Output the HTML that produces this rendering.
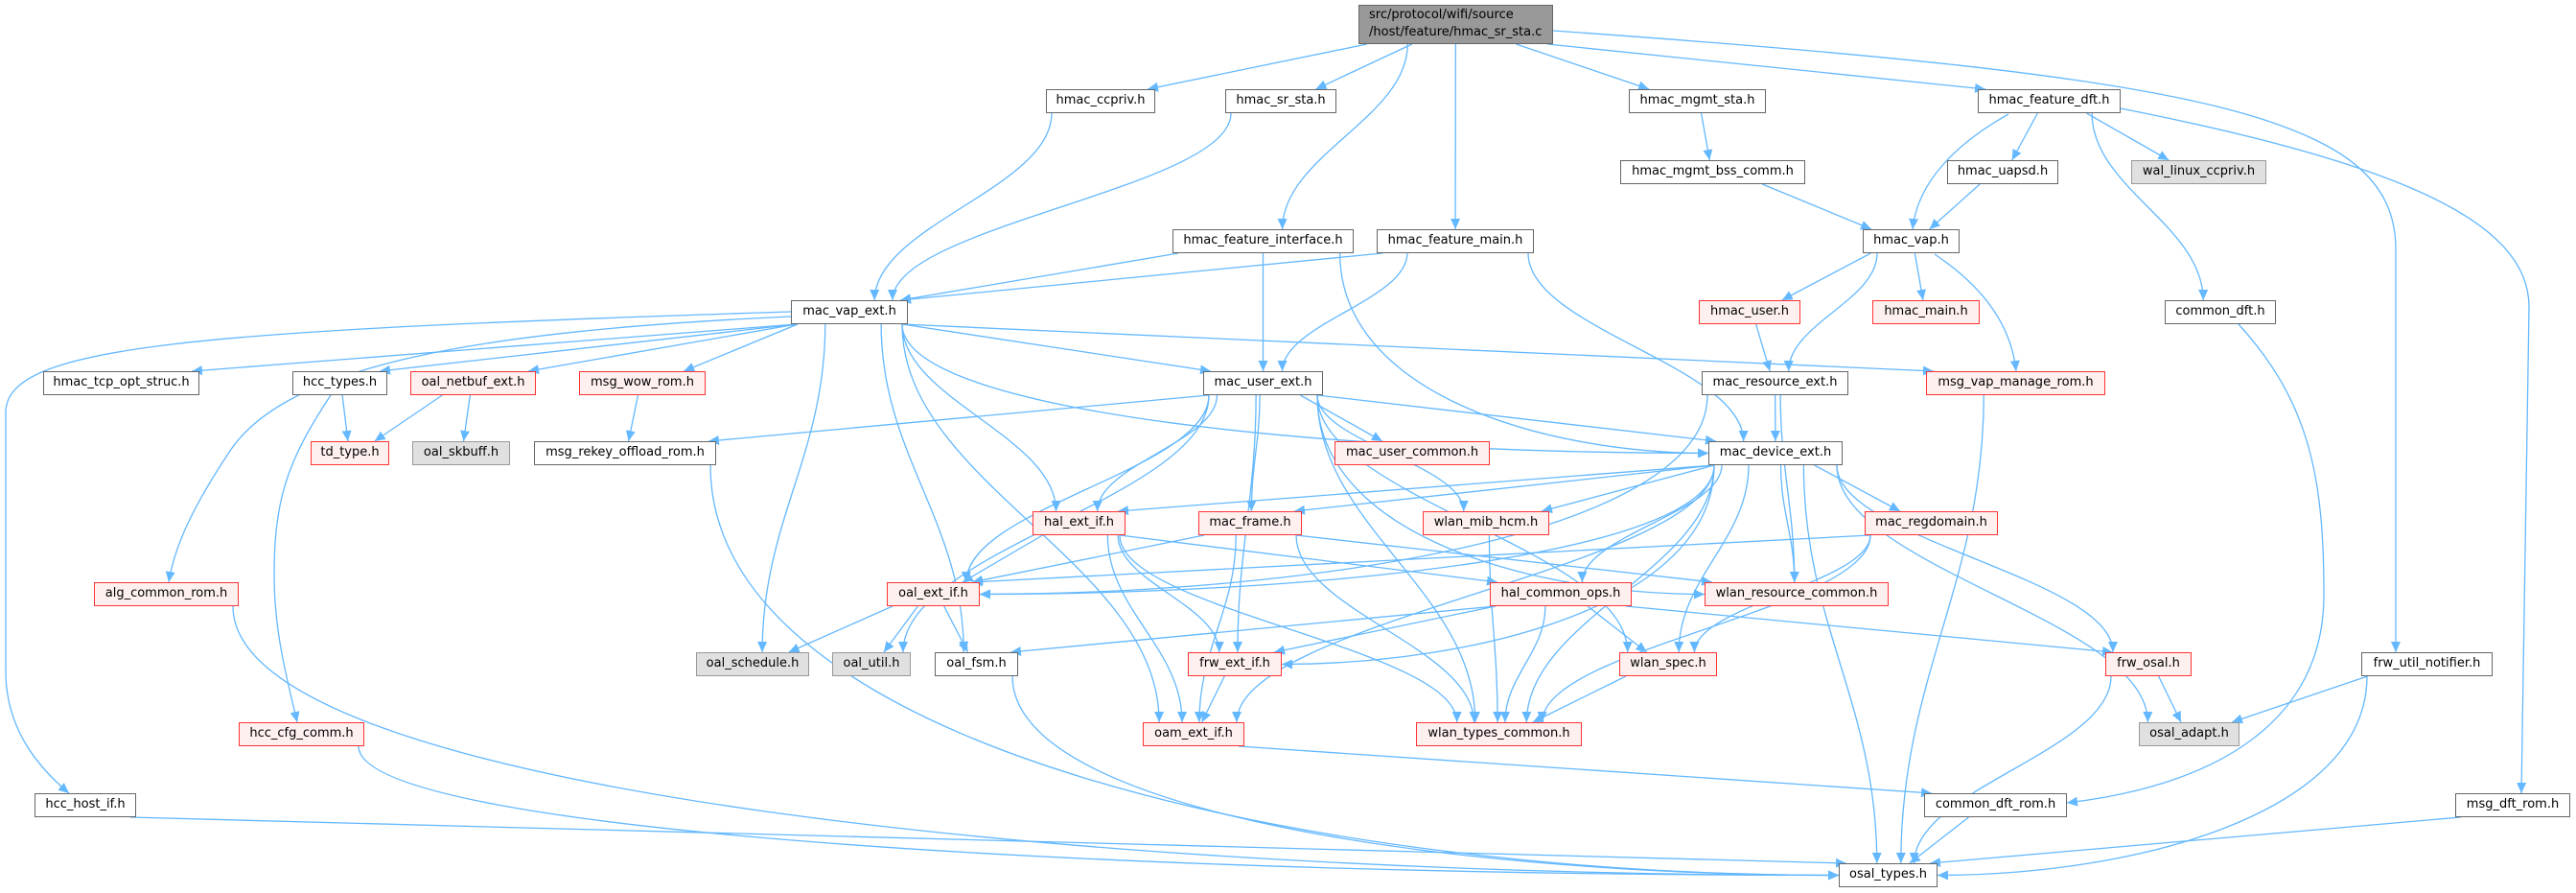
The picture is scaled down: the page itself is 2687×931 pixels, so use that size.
<!DOCTYPE html>
<html><head><meta charset="utf-8">
<style>
html,body{margin:0;padding:0;background:#fff;}
#wrap{position:relative;width:2687px;height:931px;overflow:hidden;background:#fff;}
svg{position:absolute;left:0;top:0;}
.n{position:absolute;box-sizing:border-box;height:25px;border:1.5px solid #666;background:#fff;font-family:"DejaVu Sans","Liberation Sans",sans-serif;font-size:13px;line-height:22px;text-align:center;color:#000;white-space:nowrap;}
.r{border-color:#ff3333;background:#fff0f0;}
.g{border-color:#999;background:#e0e0e0;}
.t{background:#999;border-color:#666;height:41px;line-height:18px;text-align:left;padding:1px 0 0 10px;}
</style></head><body>
<div id="wrap">
<svg id="sv" width="2687" height="931" xmlns="http://www.w3.org/2000/svg">
<defs><marker id="a" markerUnits="userSpaceOnUse" markerWidth="12" markerHeight="10" refX="11" refY="5" orient="auto"><path d="M0,0 L11,5 L0,10 z" fill="#63b8ff"/></marker></defs>
<g id="eg" fill="none" stroke="#63b8ff" stroke-width="1.3"></g>
</svg>
<div class="n t" style="left:1417px;top:5px;width:203px">src/protocol/wifi/source<br>/host/feature/hmac_sr_sta.c</div>
<div class="n" style="left:1091px;top:93px;width:114px">hmac_ccpriv.h</div>
<div class="n" style="left:1278px;top:93px;width:116px">hmac_sr_sta.h</div>
<div class="n" style="left:1699px;top:93px;width:143px">hmac_mgmt_sta.h</div>
<div class="n" style="left:2063px;top:93px;width:149px">hmac_feature_dft.h</div>
<div class="n" style="left:1690px;top:167px;width:193px">hmac_mgmt_bss_comm.h</div>
<div class="n" style="left:2031px;top:167px;width:116px">hmac_uapsd.h</div>
<div class="n g" style="left:2223px;top:167px;width:141px">wal_linux_ccpriv.h</div>
<div class="n" style="left:1223px;top:239px;width:189px">hmac_feature_interface.h</div>
<div class="n" style="left:1436px;top:239px;width:164px">hmac_feature_main.h</div>
<div class="n" style="left:1943px;top:239px;width:101px">hmac_vap.h</div>
<div class="n" style="left:825px;top:313px;width:122px">mac_vap_ext.h</div>
<div class="n r" style="left:1772px;top:313px;width:106px">hmac_user.h</div>
<div class="n r" style="left:1953px;top:313px;width:112px">hmac_main.h</div>
<div class="n" style="left:2258px;top:313px;width:116px">common_dft.h</div>
<div class="n" style="left:45px;top:387px;width:163px">hmac_tcp_opt_struc.h</div>
<div class="n" style="left:305px;top:387px;width:99px">hcc_types.h</div>
<div class="n r" style="left:428px;top:387px;width:131px">oal_netbuf_ext.h</div>
<div class="n r" style="left:604px;top:387px;width:132px">msg_wow_rom.h</div>
<div class="n" style="left:1255px;top:387px;width:125px">mac_user_ext.h</div>
<div class="n" style="left:1775px;top:387px;width:153px">mac_resource_ext.h</div>
<div class="n r" style="left:2009px;top:387px;width:187px">msg_vap_manage_rom.h</div>
<div class="n r" style="left:324px;top:460px;width:82px">td_type.h</div>
<div class="n g" style="left:430px;top:460px;width:102px">oal_skbuff.h</div>
<div class="n" style="left:557px;top:460px;width:190px">msg_rekey_offload_rom.h</div>
<div class="n r" style="left:1392px;top:460px;width:162px">mac_user_common.h</div>
<div class="n" style="left:1782px;top:460px;width:140px">mac_device_ext.h</div>
<div class="n r" style="left:1077px;top:533px;width:97px">hal_ext_if.h</div>
<div class="n r" style="left:1250px;top:533px;width:108px">mac_frame.h</div>
<div class="n r" style="left:1484px;top:533px;width:132px">wlan_mib_hcm.h</div>
<div class="n r" style="left:1945px;top:533px;width:139px">mac_regdomain.h</div>
<div class="n r" style="left:98px;top:607px;width:151px">alg_common_rom.h</div>
<div class="n r" style="left:925px;top:607px;width:97px">oal_ext_if.h</div>
<div class="n r" style="left:1554px;top:607px;width:148px">hal_common_ops.h</div>
<div class="n r" style="left:1778px;top:607px;width:192px">wlan_resource_common.h</div>
<div class="n g" style="left:726px;top:680px;width:118px">oal_schedule.h</div>
<div class="n g" style="left:868px;top:680px;width:82px">oal_util.h</div>
<div class="n" style="left:975px;top:680px;width:87px">oal_fsm.h</div>
<div class="n r" style="left:1239px;top:680px;width:98px">frw_ext_if.h</div>
<div class="n r" style="left:1689px;top:680px;width:102px">wlan_spec.h</div>
<div class="n r" style="left:2196px;top:680px;width:90px">frw_osal.h</div>
<div class="n" style="left:2463px;top:680px;width:137px">frw_util_notifier.h</div>
<div class="n r" style="left:249px;top:753px;width:131px">hcc_cfg_comm.h</div>
<div class="n r" style="left:1192px;top:753px;width:106px">oam_ext_if.h</div>
<div class="n r" style="left:1477px;top:753px;width:173px">wlan_types_common.h</div>
<div class="n g" style="left:2231px;top:753px;width:105px">osal_adapt.h</div>
<div class="n" style="left:36px;top:827px;width:106px">hcc_host_if.h</div>
<div class="n" style="left:2007px;top:827px;width:149px">common_dft_rom.h</div>
<div class="n" style="left:2561px;top:827px;width:120px">msg_dft_rom.h</div>
<div class="n" style="left:1918px;top:900px;width:103px">osal_types.h</div>
</div>
<script>
var N={
top:[1417,1620,5,46],ccpriv:[1091,1205,93],srsta:[1278,1394,93],mgmtsta:[1699,1842,93],fdft:[2063,2212,93],
bss:[1690,1883,167],uapsd:[2031,2147,167],wal:[2223,2364,167],fint:[1223,1412,239],fmain:[1436,1600,239],hvap:[1943,2044,239],
vap:[825,947,313],huser:[1772,1878,313],hmain:[1953,2065,313],cdft:[2258,2374,313],
tcp:[45,208,387],hcct:[305,404,387],netbuf:[428,559,387],wow:[604,736,387],user:[1255,1380,387],res:[1775,1928,387],vmr:[2009,2196,387],
td:[324,406,460],skb:[430,532,460],rekey:[557,747,460],muc:[1392,1554,460],dev:[1782,1922,460],
hal:[1077,1174,533],frame:[1250,1358,533],mib:[1484,1616,533],reg:[1945,2084,533],
alg:[98,249,607],oal:[925,1022,607],hco:[1554,1702,607],wrc:[1778,1970,607],
sched:[726,844,680],util:[868,950,680],fsm:[975,1062,680],frw:[1239,1337,680],spec:[1689,1791,680],fosal:[2196,2286,680],fun:[2463,2600,680],
hccc:[249,380,753],oam:[1192,1298,753],wtc:[1477,1650,753],oadapt:[2231,2336,753],
hhi:[36,142,827],cdr:[2007,2156,827],mdr:[2561,2681,827],ot:[1918,2021,900]};
for(var k in N){var v=N[k];if(v.length<4)v.push(v[2]+25);}
var E="top ccpriv,top srsta,top fint,top fmain,top mgmtsta,top fdft,ccpriv vap,srsta vap,mgmtsta bss,bss hvap,fdft uapsd,fdft wal,fdft cdft,uapsd hvap,"+
"fint vap,fint user,fint dev,fmain vap,fmain user,fmain dev,hvap huser,hvap hmain,hvap res,huser res,"+
"vap tcp,vap hcct,vap netbuf,vap wow,vap user,vap dev,vap vmr,vap hal,vap sched,vap fsm,vap oam,"+
"hcct td,netbuf td,netbuf skb,wow rekey,rekey ot,"+
"user rekey,user muc,user dev,user hal,user frame,user oal,user util,user frw,user wtc,user mib,user spec,user wrc,"+
"res dev,res oal,res wrc,"+
"dev hal,dev frame,dev mib,dev reg,dev oal,dev hco,dev wrc,dev spec,dev frw,dev oam,dev fosal,dev oadapt,dev ot,dev wtc,"+
"reg oal,reg spec,reg wtc,hal oal,hal hco,hal frw,hal oam,hal wtc,frame oal,frame wrc,frame oam,frame wtc,mib wtc,"+
"oal sched,oal util,oal fsm,hco fsm,hco frw,hco wtc,hco spec,hco fosal,frw oam,spec wtc,oam cdr,fsm ot,"+
"fosal oadapt,fosal ot,fun oadapt,fun ot,cdr ot,mdr ot,vmr ot,hhi ot,alg ot,hccc ot";
var g=document.getElementById('eg'),s='';
function cl(v,a){return Math.max(-a,Math.min(a,v));}
function add(d){s+='<path d="'+d+'" marker-end="url(#a)"/>';}
E.split(',').forEach(function(p){
 var q=p.split(' '),A=N[q[0]],B=N[q[1]];
 var acx=(A[0]+A[1])/2,bcx=(B[0]+B[1])/2,wa=A[1]-A[0],wb=B[1]-B[0];
 var dx=bcx-acx,dy=B[2]-A[3];
 var rows=Math.round((B[2]-A[2])/73.5);
 var sx=acx+cl(dx*0.25,wa/2-6),sy=A[3];
 if(rows>=2&&Math.abs(dx)>2.6*dy){
  var ex=dx>0?B[0]:B[1],ey=(B[2]+B[3])/2;
  sx=acx+cl(dx*0.15,wa/2-6);
  var sg=dx>0?1:-1;
  add('M'+sx+','+sy+' C'+sx+','+(sy+(ey-sy)*0.7)+' '+(ex-sg*Math.abs(ex-sx)*0.45)+','+ey+' '+ex+','+ey);
 } else if(rows<=1){
  var ex=bcx+cl(-dx*0.2,wb/2-8);
  add('M'+sx+','+sy+' L'+ex+','+B[2]);
 } else {
  var ex=bcx+cl(-dx*0.1,wb/2-8);
  add('M'+sx+','+sy+' C'+sx+','+(sy+dy*0.4)+' '+ex+','+(B[2]-dy*0.4)+' '+ex+','+B[2]);
 }
});
add('M1620,32 C2300,80 2499,120 2499,260 L2499,680');
add('M2212,113 C2500,170 2638,230 2638,320 L2630,827');
add('M825,325 C200,345 6,360 6,430 L6,700 C6,760 40,800 72,827');
add('M825,330 C500,345 300,380 240,470 C200,530 182,570 176,607');
add('M345,412 C300,480 286,520 286,600 C286,660 300,710 310,753');
add('M2335,338 C2410,420 2424,500 2424,620 C2424,760 2300,820 2156,837');
add('M2095,119 C2040,150 2000,190 1995,239');
add('M2018,265 C2070,300 2098,340 2103,387');
g.innerHTML=s;
</script>
</body></html>
